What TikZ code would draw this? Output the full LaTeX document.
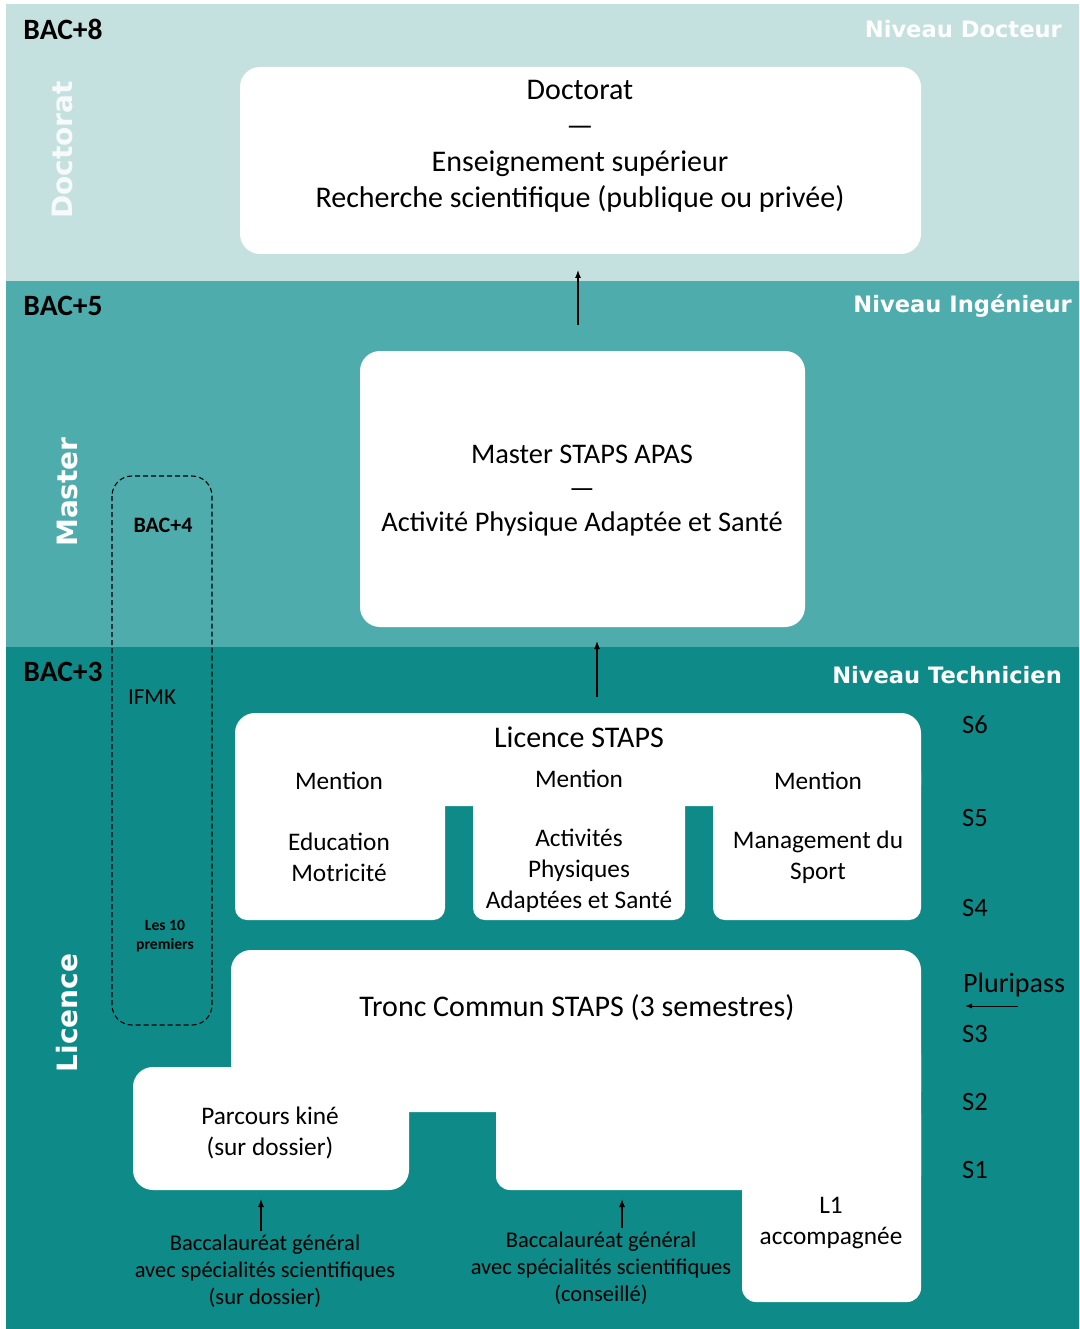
\documentclass[tikz,border=0pt]{standalone}
\usepackage{fontspec}
\setmainfont{Carlito}
\newfontfamily\vfont{DejaVu Sans}
\usetikzlibrary{arrows.meta}
\definecolor{bandA}{HTML}{C4E0DF}
\definecolor{bandB}{HTML}{4FACAD}
\definecolor{bandC}{HTML}{0E8B89}
\begin{document}
\begin{tikzpicture}[x=1pt,y=-1pt,
  wbox/.style={fill=white, rounded corners=20pt},
  big/.style={font=\fontsize{30}{36}\selectfont, align=center, inner sep=0pt},
  mid/.style={font=\fontsize{25.3}{31}\selectfont, align=center, inner sep=0pt},
  small/.style={font=\fontsize{22.5}{27}\selectfont, align=center, inner sep=0pt},
  bac/.style={font=\bfseries\fontsize{29.5}{32}\selectfont, inner sep=0pt},
  niveau/.style={font=\vfont\bfseries\fontsize{22.6}{26}\selectfont, text=white, inner sep=0pt, anchor=east},
  vlab/.style={font=\vfont\bfseries\fontsize{28}{30}\selectfont, text=white, inner sep=0pt, rotate=90},
  sem/.style={font=\fontsize{26.5}{30}\selectfont, inner sep=0pt, anchor=west},
  arr/.style={-{Latex[length=8pt,width=6pt]}, line width=1.1pt, black}]
\useasboundingbox (0,0) rectangle (1079,1329);
\fill[white] (0,0) rectangle (1079,1329);
% bands
\fill[bandA] (6,4) rectangle (1079,281);
\fill[bandB] (6,281) rectangle (1079,647);
\fill[bandC] (6,647) rectangle (1079,1329);
% side labels
\node[bac] (b8) at (63,29) {BAC+8};
\node[bac] (b5) at (63,306) {BAC+5};
\node[bac] (b3) at (63,672) {BAC+3};
\node[niveau] (nd) at (1062,29) {Niveau Docteur};
\node[niveau] (ni) at (1072,306) {Niveau Ingénieur};
\node[niveau] (nt) at (1062,675) {Niveau Technicien};
\node[vlab, text=white!85!bandA] (vd) at (62,150) {Doctorat};
\node[vlab] (vm) at (67,492) {Master};
\node[vlab] (vl) at (67,1013) {Licence};
% doctorat box
\node[wbox, minimum width=681pt, minimum height=187pt] (docbox) at (580.5,160.5) {};
\node[big] (doctxt) at (580,146) {Doctorat\\—\\Enseignement supérieur\\Recherche scientifique (publique ou privée)};
% master box
\node[wbox, minimum width=445pt, minimum height=276pt] (masbox) at (582.5,489) {};
\node[font=\fontsize{28.4}{34}\selectfont, align=center, inner sep=0pt] (mastxt) at (582,491) {Master STAPS APAS\\—\\Activité Physique Adaptée et Santé};
% arrows up
\coordinate (a1s) at (578,325);
\coordinate (a1e) at (578,270);
\draw[arr] (a1s) -- (a1e);
\coordinate (a2s) at (597,697);
\coordinate (a2e) at (597,641);
\draw[arr] (a2s) -- (a2e);
% licence shape
\fill[wbox] (235,713) rectangle (921,806);
\fill[white, rounded corners=12pt] (235,760) rectangle (445,920);
\fill[white, rounded corners=12pt] (473,760) rectangle (685,920);
\fill[white, rounded corners=12pt] (713,760) rectangle (921,920);
\node[big] (lic) at (579,737) {Licence STAPS};
\node[mid] (m1) at (339,781) {Mention};
\node[mid] (m2) at (579,779) {Mention};
\node[mid] (m3) at (818,781) {Mention};
\node[mid] (e1) at (339,857) {Education\\Motricité};
\node[mid] (e2) at (579,871) {Activités\\Physiques\\Adaptées et Santé};
\node[mid] (e3) at (818,857) {Management du\\Sport};
% tronc commun shape
\fill[wbox] (231,950) rectangle (921,1112);
\fill[wbox] (133,1067) rectangle (409,1190);
\fill[white] (231,1060) rectangle (300,1100);
\fill[white, rounded corners=14pt] (496,1040) rectangle (921,1190);
\fill[white, rounded corners=14pt] (742,1100) rectangle (921,1302);
\node[big] (tc) at (577,1008) {Tronc Commun STAPS (3 semestres)};
\node[mid] (pk) at (270,1133) {Parcours kiné\\(sur dossier)};
\node[mid] (l1) at (831,1223) {L1\\accompagnée};
% bac entries
\node[small] (bg1) at (265,1271) {Baccalauréat général\\avec spécialités scientifiques\\(sur dossier)};
\node[small] (bg2) at (601,1268) {Baccalauréat général\\avec spécialités scientifiques\\(conseillé)};
\coordinate (k1) at (261,1199);
\coordinate (k2) at (622,1199);
\draw[arr] (bg1.north -| k1) ++(0,-3) -- (k1);
\draw[arr] (bg2.north -| k2) ++(0,-3) -- (k2);
% semesters
\node[sem] (s6) at (962,725) {S6};
\node[sem] (s5) at (962,818) {S5};
\node[sem] (s4) at (962,908) {S4};
\node[sem, font=\fontsize{28}{30}\selectfont] (pp) at (963,985) {Pluripass};
\node[sem] (s3) at (962,1034) {S3};
\node[sem] (s2) at (962,1102) {S2};
\node[sem] (s1) at (962,1170) {S1};
\coordinate (ppe) at (965,1006);
\coordinate (pps) at (1018,1006);
\draw[-{Latex[length=7pt,width=5pt]}, line width=0.9pt] (pps) -- (ppe);
% IFMK dashed box
\draw[dash pattern=on 5pt off 3pt, line width=1.1pt, rounded corners=20pt] (112,476) rectangle (212,1025);
\node[font=\bfseries\fontsize{22}{24}\selectfont, inner sep=0pt] (b4) at (163,525) {BAC+4};
\node[font=\fontsize{23}{25}\selectfont, inner sep=0pt] (ifmk) at (152,697) {IFMK};
\node[font=\bfseries\fontsize{15.6}{19}\selectfont, align=center, inner sep=0pt] (l10) at (165,936) {Les 10\\premiers};
\end{tikzpicture}
\end{document}
